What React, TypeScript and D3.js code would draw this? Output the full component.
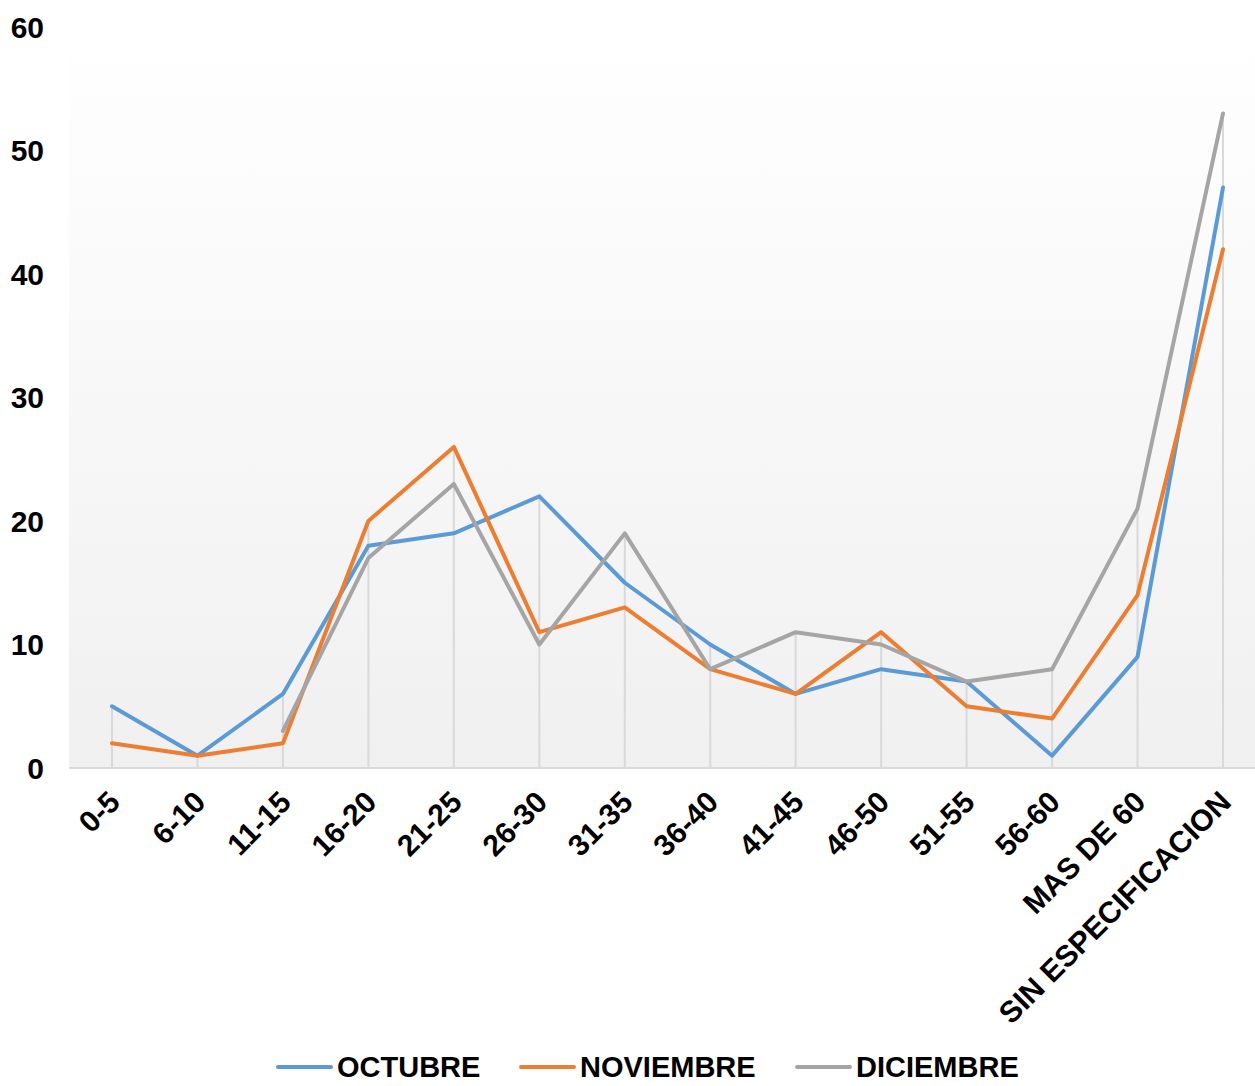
import React from 'react'
import * as d3 from 'd3'

const categories = ['0-5', '6-10', '11-15', '16-20', '21-25', '26-30', '31-35', '36-40', '41-45', '46-50', '51-55', '56-60', 'MAS DE 60', 'SIN ESPECIFICACION']
const octubre = [5, 1, 6, 18, 19, 22, 15, 10, 6, 8, 7, 1, 9, 47]
const noviembre = [2, 1, 2, 20, 26, 11, 13, 8, 6, 11, 5, 4, 14, 42]
const diciembre = [null, null, 3, 17, 23, 10, 19, 8, 11, 10, 7, 8, 21, 53]
const yTicks = [0, 10, 20, 30, 40, 50, 60]

const series = [
  { name: 'OCTUBRE', values: octubre, color: '#5b9bd5' },
  { name: 'NOVIEMBRE', values: noviembre, color: '#ed7d31' },
  { name: 'DICIEMBRE', values: diciembre, color: '#a5a5a5' },
]

const W = 1255
const H = 1086
const font = '"Liberation Sans", Arial, sans-serif'

export default function App() {
  const x = d3.scalePoint<string>().domain(categories).range([112, 1223])
  const y = d3.scaleLinear().domain([0, 60]).range([768, 27])

  const line = d3
    .line<number | null>()
    .defined((d) => d != null)
    .x((_, i) => x(categories[i]) as number)
    .y((d) => y(d as number))

  const legendX = [278, 521, 797]

  return (
    <div style={{ position: 'absolute', left: 0, top: 0 }}>
      <svg width={W} height={H} style={{ display: 'block', fontFamily: font }}>
        <defs>
          <linearGradient id="bg" x1="0" y1="0" x2="0" y2="1">
            <stop offset="0" stopColor="#ffffff" />
            <stop offset="1" stopColor="#f0f0f0" />
          </linearGradient>
        </defs>
        <rect x={69} y={y(60)} width={W - 69} height={y(0) - y(60)} fill="url(#bg)" />

        {/* drop lines */}
        {categories.map((c, i) => {
          const m = d3.max(series, (s) => s.values[i] ?? 0) as number
          return <line key={c} x1={x(c)} x2={x(c)} y1={y(m)} y2={y(0)} stroke="#d9d9d9" strokeWidth={2} />
        })}

        <line x1={69} x2={W} y1={y(0)} y2={y(0)} stroke="#d9d9d9" strokeWidth={2} />

        {yTicks.map((t) => (
          <text key={t} x={44} y={y(t)} dy="0.35em" textAnchor="end" fontSize={30} fontWeight="bold" fill="#000">
            {t}
          </text>
        ))}

        {categories.map((c) => (
          <text
            key={c}
            transform={`translate(${(x(c) as number) - 5}, 789) rotate(-45)`}
            textAnchor="end"
            dy="0.7em"
            fontSize={30}
            fontWeight="bold"
            fill="#000"
          >
            {c}
          </text>
        ))}

        {series.map((s) => (
          <path key={s.name} d={line(s.values) as string} fill="none" stroke={s.color} strokeWidth={4} strokeLinejoin="round" strokeLinecap="round" />
        ))}

        {series.map((s, i) => (
          <g key={s.name} transform={`translate(${legendX[i]}, 1067)`}>
            <line x1={0} x2={53} y1={0} y2={0} stroke={s.color} strokeWidth={4} strokeLinecap="round" />
            <text x={59} y={0} dy="0.35em" fontSize={29} fontWeight="bold" fill="#000">
              {s.name}
            </text>
          </g>
        ))}
      </svg>
    </div>
  )
}
